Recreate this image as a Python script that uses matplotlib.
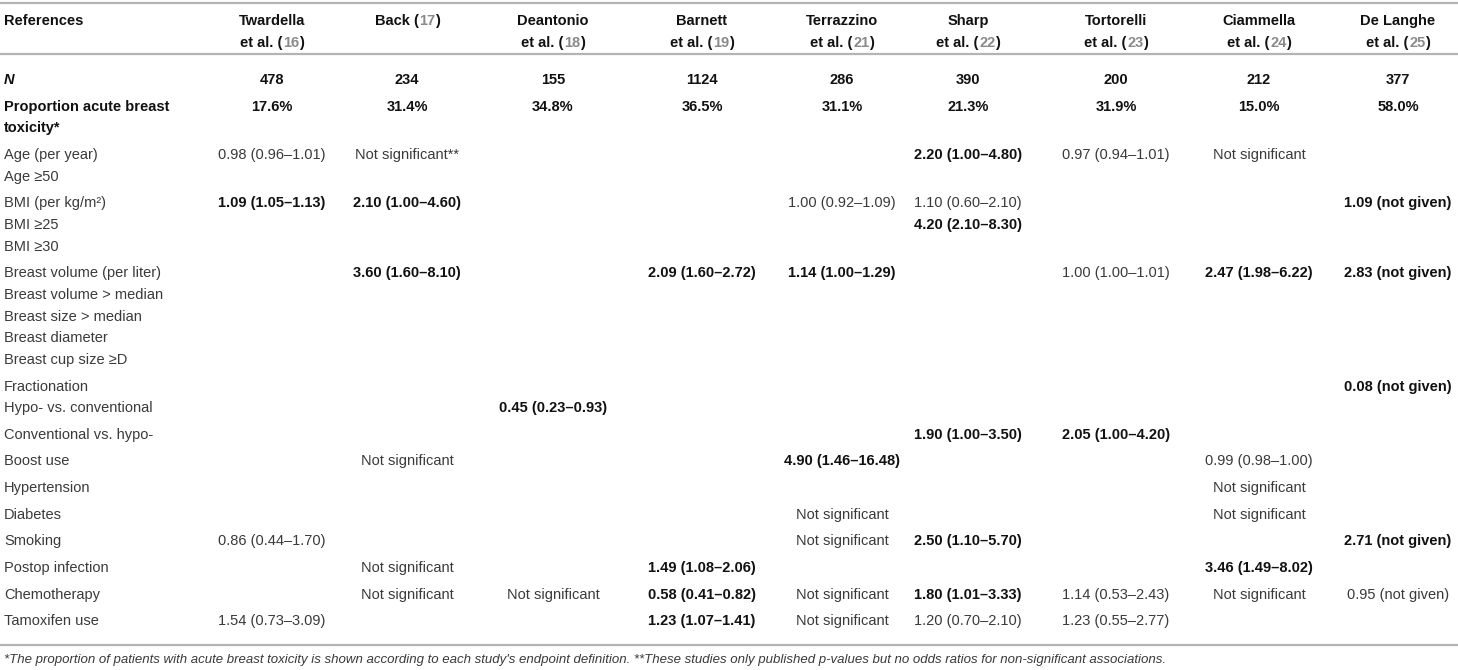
'''
Table of risk factors for acute breast toxicity, drawn with Matplotlib.
'''

import matplotlib
matplotlib.use("Agg")
import matplotlib.pyplot as plt

plt.rcParams['font.family'] = ['Liberation Sans', 'DejaVu Sans']

# Study headers: name, whether an "et al." line follows, reference number
study_names = ["Twardella", "Back", "Deantonio", "Barnett", "Terrazzino",
               "Sharp", "Tortorelli", "Ciammella", "De Langhe"]
study_refs = ["16", "17", "18", "19", "21", "22", "23", "24", "25"]
study_etal = [True, False, True, True, True, True, True, True, True]

# Row labels and which group each row belongs to
row_labels = ["N", "Proportion acute breast\ntoxicity*",
              "Age (per year)", "Age ≥50",
              "BMI (per kg/m²)", "BMI ≥25", "BMI ≥30",
              "Breast volume (per liter)", "Breast volume > median",
              "Breast size > median", "Breast diameter", "Breast cup size ≥D",
              "Fractionation", "Hypo- vs. conventional",
              "Conventional vs. hypo-",
              "Boost use", "Hypertension", "Diabetes", "Smoking",
              "Postop infection", "Chemotherapy", "Tamoxifen use"]
row_group = [0, 1, 2, 2, 3, 3, 3, 4, 4, 4, 4, 4, 5, 5, 6,
             7, 8, 9, 10, 11, 12, 13]

# Cell values per row, one entry per study ("!" marks bold = significant)
NS = "Not significant"
n_patients = ["!478", "!234", "!155", "!1124", "!286", "!390", "!200", "!212", "!377"]
prop_tox = ["!17.6%", "!31.4%", "!34.8%", "!36.5%", "!31.1%", "!21.3%",
            "!31.9%", "!15.0%", "!58.0%"]
age_year = ["0.98 (0.96–1.01)", "Not significant**", "", "", "",
            "!2.20 (1.00–4.80)", "0.97 (0.94–1.01)", NS, ""]
age_50 = [""] * 9
bmi_kg = ["!1.09 (1.05–1.13)", "!2.10 (1.00–4.60)", "", "", "1.00 (0.92–1.09)",
          "1.10 (0.60–2.10)", "", "", "!1.09 (not given)"]
bmi_25 = ["", "", "", "", "", "!4.20 (2.10–8.30)", "", "", ""]
bmi_30 = [""] * 9
breast_vol = ["", "!3.60 (1.60–8.10)", "", "!2.09 (1.60–2.72)", "!1.14 (1.00–1.29)",
              "", "1.00 (1.00–1.01)", "!2.47 (1.98–6.22)", "!2.83 (not given)"]
breast_vol_med = [""] * 9
breast_size_med = [""] * 9
breast_diam = [""] * 9
breast_cup = [""] * 9
fractionation = ["", "", "", "", "", "", "", "", "!0.08 (not given)"]
hypo_conv = ["", "", "!0.45 (0.23–0.93)", "", "", "", "", "", ""]
conv_hypo = ["", "", "", "", "", "!1.90 (1.00–3.50)", "!2.05 (1.00–4.20)", "", ""]
boost = ["", NS, "", "", "!4.90 (1.46–16.48)", "", "", "0.99 (0.98–1.00)", ""]
hypertension = ["", "", "", "", "", "", "", NS, ""]
diabetes = ["", "", "", "", NS, "", "", NS, ""]
smoking = ["0.86 (0.44–1.70)", "", "", "", NS, "!2.50 (1.10–5.70)", "", "",
           "!2.71 (not given)"]
postop = ["", NS, "", "!1.49 (1.08–2.06)", "", "", "", "!3.46 (1.49–8.02)", ""]
chemo = ["", NS, NS, "!0.58 (0.41–0.82)", NS, "!1.80 (1.01–3.33)",
         "1.14 (0.53–2.43)", NS, "0.95 (not given)"]
tamoxifen = ["1.54 (0.73–3.09)", "", "", "!1.23 (1.07–1.41)", NS,
             "1.20 (0.70–2.10)", "1.23 (0.55–2.77)", "", ""]

cells = [n_patients, prop_tox, age_year, age_50, bmi_kg, bmi_25, bmi_30,
         breast_vol, breast_vol_med, breast_size_med, breast_diam, breast_cup,
         fractionation, hypo_conv, conv_hypo, boost, hypertension, diabetes,
         smoking, postop, chemo, tamoxifen]

footnote = ("*The proportion of patients with acute breast toxicity is shown according "
            "to each study's endpoint definition. **These studies only published "
            "p-values but no odds ratios for non-significant associations.")

# Layout (pixels)
W, H = 1458, 670
col_x = [272, 407, 553, 702, 842, 968, 1116, 1259, 1398]
FS = 10.5
LINE = 21.7
GAP = 26.6
NORMAL = "#3a3a3a"
BOLD = "#111111"
REFC = "#8a8a8a"
RULE = "#b4b4b4"

fig = plt.figure(figsize=(W / 100, H / 100), dpi=100)
ax = fig.add_axes([0, 0, 1, 1])
ax.set_xlim(0, W)
ax.set_ylim(H, 0)
ax.axis("off")
renderer = fig.canvas.get_renderer()


def text_width(s, **kw):
    t = ax.text(0, 0, s, **kw)
    w = t.get_window_extent(renderer).width
    t.remove()
    return w


def ref_centered(xc, y, before, ref, after, **kw):
    # "before" black, reference number grey, closing bracket black, centred
    full = text_width(before + ref + after, **kw)
    x0 = xc - full / 2
    ax.text(x0, y, before, color=BOLD, va="center", ha="left", **kw)
    ax.text(x0 + text_width(before, **kw) + 0.5, y, ref, color=REFC,
            va="center", ha="left", **kw)
    ax.text(x0 + full, y, after, color=BOLD, va="center", ha="right", **kw)


# rules
ax.axhline(3, color=RULE, lw=1.6)
ax.axhline(54, color=RULE, lw=1.6)

# header
ax.text(4, 21, "References", fontsize=FS, fontweight="bold", color=BOLD, va="center")
for x, name, ref, etal in zip(col_x, study_names, study_refs, study_etal):
    if etal:
        ax.text(x, 21, name, fontsize=FS, fontweight="bold", color=BOLD,
                ha="center", va="center")
        ref_centered(x, 43, "et al. (", ref, ")", fontsize=FS, fontweight="bold")
    else:
        ref_centered(x, 21, name + " (", ref, ")", fontsize=FS, fontweight="bold")

# body rows
y = 80
prev_group = row_group[0]
row_y = []
for i, g in enumerate(row_group):
    if i > 0:
        y += GAP if g != prev_group else LINE
        if "\n" in row_labels[i - 1]:
            y += LINE
    row_y.append(y)
    prev_group = g

for i, (label, vals, yy) in enumerate(zip(row_labels, cells, row_y)):
    if i == 0:
        ax.text(4, yy, label, fontsize=FS, fontweight="bold", fontstyle="italic",
                color=BOLD, va="center")
    elif i == 1:
        for k, part in enumerate(label.split("\n")):
            ax.text(4, yy + k * LINE, part, fontsize=FS, fontweight="bold",
                    color=BOLD, va="center")
    else:
        ax.text(4, yy, label, fontsize=FS, color=NORMAL, va="center")
    for x, v in zip(col_x, vals):
        if not v:
            continue
        if v.startswith("!"):
            ax.text(x, yy, v[1:], fontsize=FS, fontweight="bold", color=BOLD,
                    ha="center", va="center")
        else:
            ax.text(x, yy, v, fontsize=FS, color=NORMAL, ha="center", va="center")

bottom = row_y[-1] + 24
ax.axhline(bottom, color=RULE, lw=1.6)
ax.text(4, bottom + 15, footnote, fontsize=9.5, fontstyle="italic", color=NORMAL,
        va="center")

plt.savefig("out.png", dpi=100)
